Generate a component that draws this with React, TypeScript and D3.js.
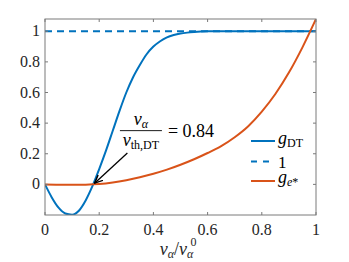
import React from 'react'
import * as d3 from 'd3'

// g_DT
const dtX = [0, 0.025, 0.05, 0.075, 0.1, 0.125, 0.15, 0.175, 0.2, 0.225, 0.25, 0.275, 0.3, 0.325, 0.35, 0.375, 0.4, 0.425, 0.45, 0.475, 0.5, 0.525, 0.55, 0.575, 0.6, 0.7, 0.8, 0.9, 1.0]
const dtY = [0, -0.085, -0.152, -0.19, -0.198, -0.172, -0.105, -0.012, 0.1, 0.22, 0.35, 0.48, 0.6, 0.7, 0.78, 0.85, 0.9, 0.935, 0.96, 0.975, 0.985, 0.991, 0.995, 0.998, 1.0, 1.0, 1.0, 1.0, 1.0]

// g_e*
const geX = [0, 0.05, 0.1, 0.15, 0.2, 0.25, 0.3, 0.35, 0.4, 0.45, 0.5, 0.55, 0.6, 0.65, 0.7, 0.75, 0.8, 0.85, 0.9, 0.95, 1.0]
const geY = [0, -0.002, -0.003, -0.002, 0.002, 0.012, 0.027, 0.046, 0.069, 0.096, 0.128, 0.164, 0.205, 0.25, 0.308, 0.38, 0.475, 0.59, 0.73, 0.895, 1.08]

const oneX = [0, 1]
const oneY = [1, 1]

const xTicks = [0, 0.2, 0.4, 0.6, 0.8, 1]
const yTicks = [0, 0.2, 0.4, 0.6, 0.8, 1]
const tickLabels = ['0', '0.2', '0.4', '0.6', '0.8', '1']

// arrow in data units: tail -> head
const arrowFrom = [0.304, 0.205]
const arrowTo = [0.183, 0.008]
const fracAt = [0.354, 0.351]

const blue = '#0072BD'
const orange = '#D95319'
const serif = { fontFamily: "Liberation Serif, 'Times New Roman', Tinos, serif" }

export default function App() {
  const width = 349
  const height = 262
  const m = { left: 45, right: 33, top: 19, bottom: 47 }

  const x = d3.scaleLinear().domain([0, 1]).range([m.left, width - m.right])
  const y = d3.scaleLinear().domain([-0.2, 1.08]).range([height - m.bottom, m.top])

  const mk = (xs: number[], ys: number[]) =>
    d3
      .line<number>()
      .x((d, i) => x(xs[i]))
      .y(d => y(d))
      .curve(d3.curveMonotoneX)(ys) || ''

  const x0 = x(0), x1 = x(1), yb = y(-0.2), yt = y(1.08)
  const axisColor = '#7a7a7a'
  const textColor = '#262626'

  const fx = x(fracAt[0])
  const fy = y(fracAt[1])

  const legX = 251
  const legRows = [141, 161.5, 181]

  return (
    <svg width={width} height={height} style={{ position: 'absolute', left: 0, top: 0 }}>
      <defs>
        <clipPath id="plot">
          <rect x={x0} y={yt} width={x1 - x0} height={yb - yt} />
        </clipPath>
        <marker id="ah" viewBox="0 0 10 10" refX="9" refY="5" markerWidth="9" markerHeight="9" orient="auto" markerUnits="userSpaceOnUse">
          <path d="M0,1 L9,5 L0,9" fill="none" stroke="black" strokeWidth="1.6" />
        </marker>
      </defs>
      <rect x={0} y={0} width={width} height={height} fill="white" />

      <g clipPath="url(#plot)">
        <path d={mk(oneX, oneY)} fill="none" stroke={blue} strokeWidth={2} strokeDasharray="7,5" />
        <path d={mk(dtX, dtY)} fill="none" stroke={blue} strokeWidth={2} />
        <path d={mk(geX, geY)} fill="none" stroke={orange} strokeWidth={2} />
      </g>

      {/* box */}
      <rect x={x0} y={yt} width={x1 - x0} height={yb - yt} fill="none" stroke={axisColor} strokeWidth={1} />
      {xTicks.map(t => (
        <g key={'x' + t}>
          <line x1={x(t)} x2={x(t)} y1={yb} y2={yb - 3} stroke={axisColor} />
          <line x1={x(t)} x2={x(t)} y1={yt} y2={yt + 3} stroke={axisColor} />
        </g>
      ))}
      {yTicks.map(t => (
        <g key={'y' + t}>
          <line x1={x0} x2={x0 + 3} y1={y(t)} y2={y(t)} stroke={axisColor} />
          <line x1={x1} x2={x1 - 3} y1={y(t)} y2={y(t)} stroke={axisColor} />
        </g>
      ))}
      {xTicks.map((t, i) => (
        <text key={'xl' + t} x={x(t)} y={yb + 20} textAnchor="middle" fontSize={16} fill={textColor} style={serif}>
          {tickLabels[i]}
        </text>
      ))}
      {yTicks.map((t, i) => (
        <text key={'yl' + t} x={x0 - 5} y={y(t) + 5} textAnchor="end" fontSize={16} fill={textColor} style={serif}>
          {tickLabels[i]}
        </text>
      ))}

      {/* x label */}
      <text x={(x0 + x1) / 2 - 4} y={yb + 40} textAnchor="middle" fontSize={18} fill={textColor} style={serif}>
        <tspan fontStyle="italic">v</tspan>
        <tspan fontStyle="italic" fontSize={12} dy={3}>α</tspan>
        <tspan dy={-3}>/</tspan>
        <tspan fontStyle="italic">v</tspan>
        <tspan fontStyle="italic" fontSize={12} dy={3}>α</tspan>
      </text>
      <text x={(x0 + x1) / 2 + 10} y={yb + 31} fontSize={12} fill={textColor} style={serif}>0</text>

      {/* annotation */}
      <line x1={x(arrowFrom[0])} y1={y(arrowFrom[1])} x2={x(arrowTo[0])} y2={y(arrowTo[1])} stroke="black" strokeWidth={1.3} markerEnd="url(#ah)" />
      <line x1={fx - 21} x2={fx + 21} y1={fy} y2={fy} stroke="black" strokeWidth={0.9} />
      <text x={fx} y={fy - 6} textAnchor="middle" fontSize={18} fill="black" style={serif}>
        <tspan fontStyle="italic">v</tspan>
        <tspan fontStyle="italic" fontSize={12} dy={3}>α</tspan>
      </text>
      <text x={fx} y={fy + 15} textAnchor="middle" fontSize={18} fill="black" style={serif}>
        <tspan fontStyle="italic">v</tspan>
        <tspan fontSize={12} dy={3}>th,DT</tspan>
      </text>
      <text x={fx + 27} y={fy + 6} fontSize={18} fill="black" style={serif}>= 0.84</text>

      {/* legend */}
      <line x1={legX} x2={legX + 24} y1={legRows[0]} y2={legRows[0]} stroke={blue} strokeWidth={2} />
      <line x1={legX} x2={legX + 24} y1={legRows[1]} y2={legRows[1]} stroke={blue} strokeWidth={2} strokeDasharray="6,6" />
      <line x1={legX} x2={legX + 24} y1={legRows[2]} y2={legRows[2]} stroke={orange} strokeWidth={2} />
      <text x={legX + 27} y={legRows[0] + 3} fontSize={18} fill="black" style={serif}>
        <tspan fontStyle="italic">g</tspan>
        <tspan fontSize={12} dy={3}>DT</tspan>
      </text>
      <text x={legX + 27} y={legRows[1] + 6} fontSize={17} fill="black" style={serif}>1</text>
      <text x={legX + 27} y={legRows[2] + 2} fontSize={18} fill="black" style={serif}>
        <tspan fontStyle="italic">g</tspan>
        <tspan fontStyle="italic" fontSize={12} dy={3}>e</tspan>
        <tspan fontSize={12}>*</tspan>
      </text>
    </svg>
  )
}
